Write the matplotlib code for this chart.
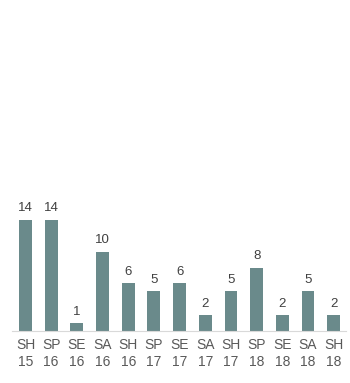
import matplotlib
matplotlib.use("Agg")
import matplotlib.pyplot as plt

plt.rcParams['font.family'] = ['Liberation Sans', 'DejaVu Sans']

seasons = ['SH', 'SP', 'SE', 'SA', 'SH', 'SP', 'SE', 'SA', 'SH', 'SP', 'SE', 'SA', 'SH']
years = ['15', '16', '16', '16', '16', '17', '17', '17', '17', '18', '18', '18', '18']
counts = [14, 14, 1, 10, 6, 5, 6, 2, 5, 8, 2, 5, 2]

labels = [s + '\n' + y for s, y in zip(seasons, years)]
xs = list(range(len(counts)))

fig = plt.figure(figsize=(3.5, 3.83), dpi=100)
ax = fig.add_axes([0.0343, 0.1358, 0.9543, 0.828])

bars = ax.bar(xs, counts, width=0.5, color='#6a8a8b')
for x, v in zip(xs, counts):
    ax.annotate(str(v), (x, v), xytext=(0, 4), textcoords='offset points',
                ha='center', va='bottom', fontsize=9.5, color='#404040')

ax.set_xlim(-0.525, 12.48)
ax.set_ylim(0, 40)
ax.set_xticks(xs)
ax.set_xticklabels(labels, fontsize=10, color='#595959', linespacing=1.25)
ax.tick_params(axis='x', length=0, pad=5)
ax.set_yticks([])
for side in ['top', 'right', 'left']:
    ax.spines[side].set_visible(False)
ax.spines['bottom'].set_color('#d9d9d9')

fig.savefig('out.png', dpi=100)
